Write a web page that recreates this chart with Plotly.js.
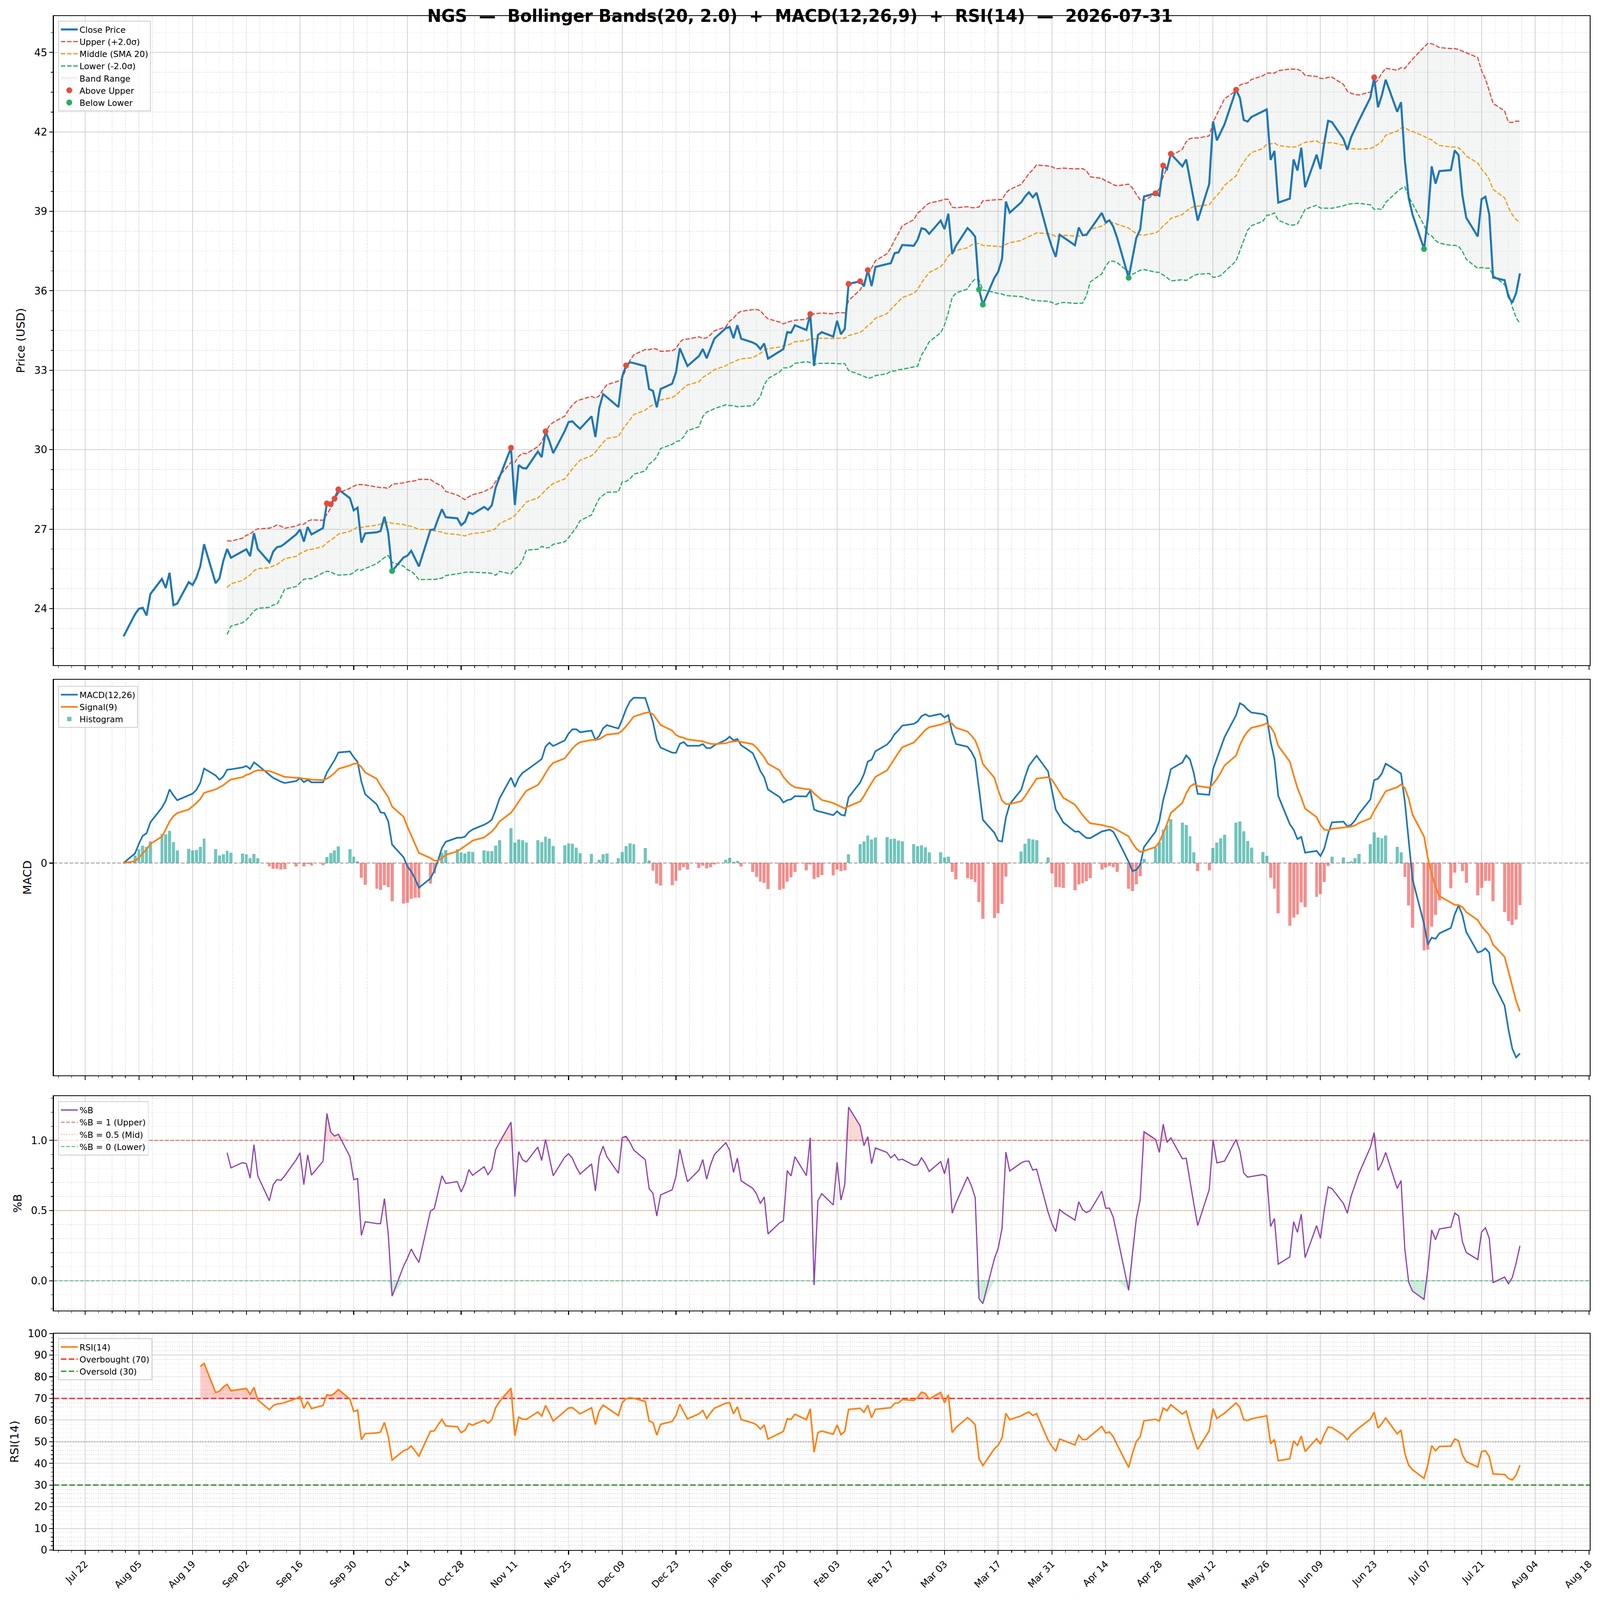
<!DOCTYPE html>
<html>
<head>
<meta charset="utf-8">
<script src="https://cdn.plot.ly/plotly-3.0.1.min.js"></script>
<style>html,body{margin:0;padding:0;background:#fff;overflow:hidden}#chart{transform-origin:0 0}</style>
</head>
<body>
<div id="chart" style="width:4378px;height:4322px"></div>
<script>
// ---- data ----
var ticker = 'NGS';
var asOf = '2026-07-31';

var dates = [
  '2025-08-01','2025-08-04','2025-08-05','2025-08-06','2025-08-07','2025-08-08','2025-08-11','2025-08-12','2025-08-13','2025-08-14','2025-08-15','2025-08-18','2025-08-19','2025-08-20','2025-08-21','2025-08-22','2025-08-25','2025-08-26','2025-08-27','2025-08-28','2025-08-29',
  '2025-09-01','2025-09-02','2025-09-03','2025-09-04','2025-09-05','2025-09-08','2025-09-09','2025-09-10','2025-09-11','2025-09-12','2025-09-15','2025-09-16','2025-09-17','2025-09-18','2025-09-19','2025-09-22','2025-09-23','2025-09-24','2025-09-25','2025-09-26','2025-09-29','2025-09-30',
  '2025-10-01','2025-10-02','2025-10-03','2025-10-06','2025-10-07','2025-10-08','2025-10-09','2025-10-10','2025-10-13','2025-10-14','2025-10-15','2025-10-16','2025-10-17','2025-10-20','2025-10-21','2025-10-22','2025-10-23','2025-10-24','2025-10-27','2025-10-28','2025-10-29','2025-10-30','2025-10-31',
  '2025-11-03','2025-11-04','2025-11-05','2025-11-06','2025-11-07','2025-11-10','2025-11-11','2025-11-12','2025-11-13','2025-11-14','2025-11-17','2025-11-18','2025-11-19','2025-11-20','2025-11-21','2025-11-24','2025-11-25','2025-11-26','2025-11-27','2025-11-28',
  '2025-12-01','2025-12-02','2025-12-03','2025-12-04','2025-12-05','2025-12-08','2025-12-09','2025-12-10','2025-12-11','2025-12-12','2025-12-15','2025-12-16','2025-12-17','2025-12-18','2025-12-19','2025-12-22','2025-12-23','2025-12-24','2025-12-25','2025-12-26','2025-12-29','2025-12-30','2025-12-31',
  '2026-01-01','2026-01-02','2026-01-05','2026-01-06','2026-01-07','2026-01-08','2026-01-09','2026-01-12','2026-01-13','2026-01-14','2026-01-15','2026-01-16','2026-01-19','2026-01-20','2026-01-21','2026-01-22','2026-01-23','2026-01-26','2026-01-27','2026-01-28','2026-01-29','2026-01-30',
  '2026-02-02','2026-02-03','2026-02-04','2026-02-05','2026-02-06','2026-02-09','2026-02-10','2026-02-11','2026-02-12','2026-02-13','2026-02-16','2026-02-17','2026-02-18','2026-02-19','2026-02-20','2026-02-23','2026-02-24','2026-02-25','2026-02-26','2026-02-27',
  '2026-03-02','2026-03-03','2026-03-04','2026-03-05','2026-03-06','2026-03-09','2026-03-10','2026-03-11','2026-03-12','2026-03-13','2026-03-16','2026-03-17','2026-03-18','2026-03-19','2026-03-20','2026-03-23','2026-03-24','2026-03-25','2026-03-26','2026-03-27','2026-03-30','2026-03-31',
  '2026-04-01','2026-04-02','2026-04-03','2026-04-06','2026-04-07','2026-04-08','2026-04-09','2026-04-10','2026-04-13','2026-04-14','2026-04-15','2026-04-16','2026-04-17','2026-04-20','2026-04-21','2026-04-22','2026-04-23','2026-04-24','2026-04-27','2026-04-28','2026-04-29','2026-04-30',
  '2026-05-01','2026-05-04','2026-05-05','2026-05-06','2026-05-07','2026-05-08','2026-05-11','2026-05-12','2026-05-13','2026-05-14','2026-05-15','2026-05-18','2026-05-19','2026-05-20','2026-05-21','2026-05-22','2026-05-25','2026-05-26','2026-05-27','2026-05-28','2026-05-29',
  '2026-06-01','2026-06-02','2026-06-03','2026-06-04','2026-06-05','2026-06-08','2026-06-09','2026-06-10','2026-06-11','2026-06-12','2026-06-15','2026-06-16','2026-06-17','2026-06-18','2026-06-19','2026-06-22','2026-06-23','2026-06-24','2026-06-25','2026-06-26','2026-06-29','2026-06-30',
  '2026-07-01','2026-07-02','2026-07-03','2026-07-06','2026-07-07','2026-07-08','2026-07-09','2026-07-10','2026-07-13','2026-07-14','2026-07-15','2026-07-16','2026-07-17','2026-07-20','2026-07-21','2026-07-22','2026-07-23','2026-07-24','2026-07-27','2026-07-28','2026-07-29','2026-07-30','2026-07-31'
];

var close = [
  22.95, 23.79, 23.99, 24.03, 23.74, 24.55, 25.12, 24.78, 25.35, 24.13, 24.19, 25.00, 24.89, 25.17, 25.60, 26.43, 24.96, 25.14, 25.80, 26.25, 25.92,
  26.15, 26.24, 25.98, 26.85, 26.25, 25.75, 26.15, 26.32, 26.35, 26.45, 26.80, 26.99, 26.53, 27.08, 26.80, 27.04, 27.97, 27.94, 28.15, 28.50, 28.17, 27.71,
  27.81, 26.49, 26.84, 26.88, 26.93, 27.47, 26.85, 25.42, 25.93, 26.00, 26.18, 25.89, 25.59, 26.97, 26.99, 27.39, 27.75, 27.45, 27.41, 27.15, 27.27, 27.63, 27.57,
  27.84, 27.73, 27.90, 28.57, 28.96, 30.07, 27.91, 29.42, 29.31, 29.29, 29.93, 29.72, 30.69, 30.32, 29.87, 30.70, 31.04, 31.07, 30.92, 30.79,
  31.26, 30.48, 31.57, 32.10, 31.98, 31.61, 32.77, 33.18, 33.30, 33.27, 33.15, 32.29, 32.22, 31.60, 32.29, 32.49, 32.92, 33.83, 33.49, 33.16, 33.54, 33.80, 33.45,
  33.84, 34.19, 34.59, 34.63, 34.21, 34.70, 34.19, 34.05, 33.97, 33.80, 34.01, 33.44, 33.71, 33.80, 34.44, 34.42, 34.70, 34.52, 35.12, 33.16, 34.33, 34.44,
  34.27, 34.87, 34.36, 34.56, 36.26, 36.36, 36.17, 36.78, 36.18, 36.90, 37.01, 37.04, 37.42, 37.45, 37.73, 37.70, 37.93, 38.36, 38.32, 38.15,
  38.65, 38.33, 38.91, 37.39, 37.70, 38.37, 38.23, 38.04, 36.05, 35.48, 36.49, 36.72, 37.21, 39.37, 38.95, 39.34, 39.56, 39.72, 39.53, 39.70, 38.10, 37.65,
  37.28, 38.12, 38.02, 37.72, 38.39, 38.10, 38.11, 38.32, 38.94, 38.59, 38.66, 38.42, 38.00, 36.49, 37.26, 38.00, 38.31, 39.56, 39.68, 39.59, 40.73, 40.59,
  41.17, 40.70, 40.96, 40.20, 39.42, 38.65, 40.03, 42.40, 41.68, 41.98, 42.29, 43.59, 43.29, 42.45, 42.39, 42.56, 42.78, 42.85, 40.94, 41.28, 39.33,
  39.48, 40.96, 40.54, 41.40, 39.91, 41.14, 40.60, 41.60, 42.42, 42.37, 41.73, 41.32, 41.80, 42.11, 42.42, 43.29, 44.06, 42.93, 43.38, 43.97, 42.76, 43.12,
  40.93, 39.50, 38.88, 37.58, 38.76, 40.70, 40.05, 40.52, 40.56, 41.30, 41.12, 39.60, 38.76, 38.05, 39.46, 39.55, 38.88, 36.50, 36.40, 35.78, 35.55, 35.91, 36.66
];

// days flagged with a marker in the reference
var aboveUpperDates = ['2025-09-23','2025-09-24','2025-09-25','2025-09-26','2025-11-10','2025-11-19','2025-12-10',
  '2026-01-27','2026-02-06','2026-02-09','2026-02-11','2026-04-27','2026-04-29','2026-05-01','2026-05-18','2026-06-23'];
var belowLowerDates = ['2025-10-10','2026-03-12','2026-03-13','2026-04-20','2026-07-06'];

// indicator settings
var BB_WIN = 20, BB_K = 2.0;
var MACD_FAST = 12, MACD_SLOW = 26, MACD_SIG = 9;
var RSI_LEN = 14;

// ---- indicators from the close series ----
var n = close.length;
var bbMid = [], bbUp = [], bbLow = [], pctB = [];
for (var i = 0; i < n; i++) {
  if (i < BB_WIN - 1) { bbMid.push(null); bbUp.push(null); bbLow.push(null); pctB.push(null); continue; }
  var win = close.slice(i - BB_WIN + 1, i + 1);
  var m = win.reduce(function (a, b) { return a + b; }, 0) / BB_WIN;
  var ss = win.reduce(function (a, b) { return a + (b - m) * (b - m); }, 0) / (BB_WIN - 1);
  var sd = Math.sqrt(ss);
  bbMid.push(m); bbUp.push(m + BB_K * sd); bbLow.push(m - BB_K * sd);
  pctB.push((close[i] - (m - BB_K * sd)) / (2 * BB_K * sd));
}

function ema(arr, span) {
  var a = 2 / (span + 1), out = [], prev = null;
  arr.forEach(function (v, k) { prev = k === 0 ? v : a * v + (1 - a) * prev; out.push(prev); });
  return out;
}
var emaFast = ema(close, MACD_FAST), emaSlow = ema(close, MACD_SLOW);
var macd = emaFast.map(function (v, k) { return v - emaSlow[k]; });
var signal = ema(macd, MACD_SIG);
var hist = macd.map(function (v, k) { return v - signal[k]; });

var rsi = [null];
var avgG = null, avgL = null, alpha = 1 / RSI_LEN;
for (var j = 1; j < n; j++) {
  var d = close[j] - close[j - 1];
  var g = Math.max(d, 0), l = Math.max(-d, 0);
  if (j === 1) { avgG = g; avgL = l; } else { avgG = (1 - alpha) * avgG + alpha * g; avgL = (1 - alpha) * avgL + alpha * l; }
  rsi.push(j < RSI_LEN ? null : 100 - 100 / (1 + avgG / avgL));
}

var bandDates = dates.slice(BB_WIN - 1);
var rsiDates = dates.slice(RSI_LEN);
var rsiVals = rsi.slice(RSI_LEN);
var pbVals = pctB.slice(BB_WIN - 1);

function closeOn(d) { return close[dates.indexOf(d)]; }

// ---- layout helpers ----
var DAY = 86400000;
var X_RANGE = ['2025-07-13 19:12', '2026-08-18 04:48'];
var FONT = 'DejaVu Sans';
var GRID = '#d2d2d2', GRID_MINOR = '#dedede';
var FIG_W = 4378, FIG_H = 4322, PLOT_TOP = 43, PLOT_BOT = 4187;
function fy(px) { return (PLOT_BOT - px) / (PLOT_BOT - PLOT_TOP); }

function xAxis(anchor, labels) {
  return {
    anchor: anchor, domain: [0, 1], type: 'date', range: X_RANGE,
    tick0: '2025-07-22', dtick: 14 * DAY, tickformat: '%b %d', tickangle: -45,
    showticklabels: labels, tickfont: {family: FONT, size: 26, color: '#000'},
    ticks: 'outside', ticklen: 10, tickwidth: 2.2, tickcolor: '#000',
    showline: true, mirror: true, linecolor: '#000', linewidth: 2.2,
    showgrid: true, gridcolor: GRID, gridwidth: 2, zeroline: false,
    minor: {tick0: '2025-07-22', dtick: 3.5 * DAY, ticks: 'outside', ticklen: 5.5, tickwidth: 1.6, tickcolor: '#000',
      showgrid: true, gridcolor: GRID_MINOR, gridwidth: 1.5, griddash: 'dot'}
  };
}
function yAxis(anchor, dom, range, dtick, minor, title, extra) {
  var ax = {
    anchor: anchor, domain: dom, range: range, dtick: dtick, tick0: 0,
    tickfont: {family: FONT, size: 28, color: '#000'},
    ticks: 'outside', ticklen: 10, tickwidth: 2.2, tickcolor: '#000',
    showline: true, mirror: true, linecolor: '#000', linewidth: 2.2,
    showgrid: true, gridcolor: GRID, gridwidth: 2, zeroline: false, automargin: false,
    title: {text: title, font: {family: FONT, size: 31, color: '#000'}, standoff: 16}
  };
  if (minor) ax.minor = {dtick: minor, ticks: 'outside', ticklen: 5.5, tickwidth: 1.6, tickcolor: '#000',
    showgrid: true, gridcolor: GRID_MINOR, gridwidth: 1.5, griddash: 'dot'};
  for (var k in extra) ax[k] = extra[k];
  return ax;
}
function legendBox(y) {
  return {x: 0.003, y: y, xanchor: 'left', yanchor: 'top', bgcolor: 'rgba(255,255,255,0.8)',
    bordercolor: '#cccccc', borderwidth: 2, font: {family: FONT, size: 23, color: '#000'},
    itemwidth: 46, traceorder: 'normal', tracegroupgap: 0};
}

var macdLo = Math.min.apply(null, macd.concat(signal, hist));
var macdHi = Math.max.apply(null, macd.concat(signal, hist));
var macdPad = 0.05 * (macdHi - macdLo);

// ---- traces ----
var traces = [];
// price panel
traces.push({x: bandDates, y: bbLow.slice(BB_WIN - 1), type: 'scatter', mode: 'lines', line: {width: 0},
  showlegend: false, hoverinfo: 'skip', xaxis: 'x', yaxis: 'y'});
traces.push({x: bandDates, y: bbUp.slice(BB_WIN - 1), type: 'scatter', mode: 'lines', line: {width: 1.5, color: 'rgba(149,165,166,0.25)'},
  fill: 'tonexty', fillcolor: 'rgba(149,165,166,0.1)', name: 'Band Range', legendrank: 5, xaxis: 'x', yaxis: 'y'});
traces.push({x: bandDates, y: bbUp.slice(BB_WIN - 1), type: 'scatter', mode: 'lines', name: 'Upper (+2.0σ)', legendrank: 2,
  line: {color: '#e74c3c', width: 3.3, dash: '12px,5px'}, xaxis: 'x', yaxis: 'y'});
traces.push({x: bandDates, y: bbMid.slice(BB_WIN - 1), type: 'scatter', mode: 'lines', name: 'Middle (SMA 20)', legendrank: 3,
  line: {color: '#f39c12', width: 3.3, dash: '12px,5px'}, xaxis: 'x', yaxis: 'y'});
traces.push({x: bandDates, y: bbLow.slice(BB_WIN - 1), type: 'scatter', mode: 'lines', name: 'Lower (-2.0σ)', legendrank: 4,
  line: {color: '#27ae60', width: 3.3, dash: '12px,5px'}, xaxis: 'x', yaxis: 'y'});
traces.push({x: dates, y: close, type: 'scatter', mode: 'lines', name: 'Close Price', legendrank: 1,
  line: {color: '#1f77b4', width: 5.6}, xaxis: 'x', yaxis: 'y'});
traces.push({x: aboveUpperDates, y: aboveUpperDates.map(closeOn), type: 'scatter', mode: 'markers', name: 'Above Upper', legendrank: 6,
  marker: {color: '#e74c3c', size: 16}, xaxis: 'x', yaxis: 'y'});
traces.push({x: belowLowerDates, y: belowLowerDates.map(closeOn), type: 'scatter', mode: 'markers', name: 'Below Lower', legendrank: 7,
  marker: {color: '#27ae60', size: 16}, xaxis: 'x', yaxis: 'y'});

// macd panel
traces.push({x: dates, y: hist, type: 'bar', width: 0.8 * DAY, name: 'Histogram', legend: 'legend2', legendrank: 3,
  marker: {color: hist.map(function (v) { return v >= 0 ? 'rgba(38,166,154,0.65)' : 'rgba(239,83,80,0.65)'; }), line: {width: 0}},
  xaxis: 'x2', yaxis: 'y2'});
traces.push({x: dates, y: macd, type: 'scatter', mode: 'lines', name: 'MACD(12,26)', legend: 'legend2', legendrank: 1,
  line: {color: '#1f77b4', width: 4.5}, xaxis: 'x2', yaxis: 'y2'});
traces.push({x: dates, y: signal, type: 'scatter', mode: 'lines', name: 'Signal(9)', legend: 'legend2', legendrank: 2,
  line: {color: '#ff7f0e', width: 4.5}, xaxis: 'x2', yaxis: 'y2'});

// %B panel
traces.push({x: bandDates, y: pbVals.map(function () { return 1; }), type: 'scatter', mode: 'lines', line: {width: 0},
  showlegend: false, hoverinfo: 'skip', xaxis: 'x3', yaxis: 'y3'});
traces.push({x: bandDates, y: pbVals.map(function (v) { return Math.max(v, 1); }), type: 'scatter', mode: 'lines', line: {width: 0},
  fill: 'tonexty', fillcolor: 'rgba(231,76,60,0.22)', showlegend: false, hoverinfo: 'skip', xaxis: 'x3', yaxis: 'y3'});
traces.push({x: bandDates, y: pbVals.map(function () { return 0; }), type: 'scatter', mode: 'lines', line: {width: 0},
  showlegend: false, hoverinfo: 'skip', xaxis: 'x3', yaxis: 'y3'});
traces.push({x: bandDates, y: pbVals.map(function (v) { return Math.min(v, 0); }), type: 'scatter', mode: 'lines', line: {width: 0},
  fill: 'tonexty', fillcolor: 'rgba(39,174,96,0.22)', showlegend: false, hoverinfo: 'skip', xaxis: 'x3', yaxis: 'y3'});
traces.push({x: X_RANGE, y: [1, 1], type: 'scatter', mode: 'lines', name: '%B = 1 (Upper)', legend: 'legend3', legendrank: 2,
  line: {color: 'rgba(231,76,60,0.7)', width: 2.8, dash: '10px,4.5px'}, xaxis: 'x3', yaxis: 'y3'});
traces.push({x: X_RANGE, y: [0.5, 0.5], type: 'scatter', mode: 'lines', name: '%B = 0.5 (Mid)', legend: 'legend3', legendrank: 3,
  line: {color: 'rgba(243,156,18,0.7)', width: 2.8, dash: '2.8px,4.6px'}, xaxis: 'x3', yaxis: 'y3'});
traces.push({x: X_RANGE, y: [0, 0], type: 'scatter', mode: 'lines', name: '%B = 0 (Lower)', legend: 'legend3', legendrank: 4,
  line: {color: 'rgba(39,174,96,0.7)', width: 2.8, dash: '10px,4.5px'}, xaxis: 'x3', yaxis: 'y3'});
traces.push({x: bandDates, y: pbVals, type: 'scatter', mode: 'lines', name: '%B', legend: 'legend3', legendrank: 1,
  line: {color: '#8e44ad', width: 3.3}, xaxis: 'x3', yaxis: 'y3'});

// rsi panel
traces.push({x: rsiDates, y: rsiVals.map(function () { return 70; }), type: 'scatter', mode: 'lines', line: {width: 0},
  showlegend: false, hoverinfo: 'skip', xaxis: 'x4', yaxis: 'y4'});
traces.push({x: rsiDates, y: rsiVals.map(function (v) { return Math.max(v, 70); }), type: 'scatter', mode: 'lines', line: {width: 0},
  fill: 'tonexty', fillcolor: 'rgba(255,0,0,0.2)', showlegend: false, hoverinfo: 'skip', xaxis: 'x4', yaxis: 'y4'});
traces.push({x: X_RANGE, y: [50, 50], type: 'scatter', mode: 'lines', showlegend: false,
  line: {color: 'rgba(128,128,128,0.7)', width: 2.8, dash: '2.8px,4.6px'}, xaxis: 'x4', yaxis: 'y4'});
traces.push({x: X_RANGE, y: [70, 70], type: 'scatter', mode: 'lines', name: 'Overbought (70)', legend: 'legend4', legendrank: 2,
  line: {color: 'rgba(255,0,0,0.8)', width: 3.8, dash: '15px,6.5px'}, xaxis: 'x4', yaxis: 'y4'});
traces.push({x: X_RANGE, y: [30, 30], type: 'scatter', mode: 'lines', name: 'Oversold (30)', legend: 'legend4', legendrank: 3,
  line: {color: 'rgba(0,128,0,0.8)', width: 3.8, dash: '15px,6.5px'}, xaxis: 'x4', yaxis: 'y4'});
traces.push({x: rsiDates, y: rsiVals, type: 'scatter', mode: 'lines', name: 'RSI(14)', legend: 'legend4', legendrank: 1,
  line: {color: '#ff7f0e', width: 4.2}, xaxis: 'x4', yaxis: 'y4'});

// ---- layout ----
var NB = ' \u00a0';
var layout = {
  width: FIG_W, height: FIG_H,
  paper_bgcolor: '#fff', plot_bgcolor: '#fff',
  margin: {l: 147, r: 28, t: PLOT_TOP, b: FIG_H - PLOT_BOT, autoexpand: false},
  font: {family: FONT, color: '#000'},
  title: {
    text: ticker + NB + '—' + NB + 'Bollinger Bands(20, 2.0)' + NB + '+' + NB + 'MACD(12,26,9)' + NB + '+' + NB + 'RSI(14)' + NB + '—' + NB + asOf,
    font: {family: FONT, size: 46, weight: 'bold', color: '#000'},
    x: 0.5, xref: 'container', xanchor: 'center', y: 1 - 43 / FIG_H, yref: 'container', yanchor: 'middle'
  },
  showlegend: true,
  legend: legendBox(fy(56)),
  legend2: legendBox(fy(1853)),
  legend3: legendBox(fy(2975)),
  legend4: legendBox(fy(3615)),
  xaxis: xAxis('y', false),
  xaxis2: xAxis('y2', false),
  xaxis3: xAxis('y3', false),
  xaxis4: xAxis('y4', true),
  yaxis: yAxis('x', [fy(1797), 1], [21.86, 46.38], 3, 0.75, 'Price (USD)'),
  yaxis2: yAxis('x2', [fy(2905), fy(1836)], [macdLo - macdPad, macdHi + macdPad], null, null, 'MACD',
    {tickmode: 'array', tickvals: [0], ticktext: ['0'], showgrid: false}),
  yaxis3: yAxis('x3', [fy(3540), fy(2961)], [-0.212, 1.315], 0.5, 0.1, '%B', {tickformat: '.1f'}),
  yaxis4: yAxis('x4', [0, fy(3602)], [0, 100], 10, 2, 'RSI(14)'),
  shapes: [
    {type: 'line', xref: 'x2 domain', yref: 'y2', x0: 0, x1: 1, y0: 0, y1: 0,
      line: {color: 'rgba(128,128,128,0.8)', width: 2.4, dash: '10px,4.5px'}, layer: 'below'}
  ],
  bargap: 0
};

// fit the fixed-size figure to whatever CSS viewport the browser gives us
var box = document.getElementById('chart');
var sx = window.innerWidth / FIG_W, sy = window.innerHeight / FIG_H;
box.style.transform = 'scale(' + sx + ',' + sy + ')';

Plotly.newPlot('chart', traces, layout, {displayModeBar: false, staticPlot: true});
</script>
</body>
</html>
